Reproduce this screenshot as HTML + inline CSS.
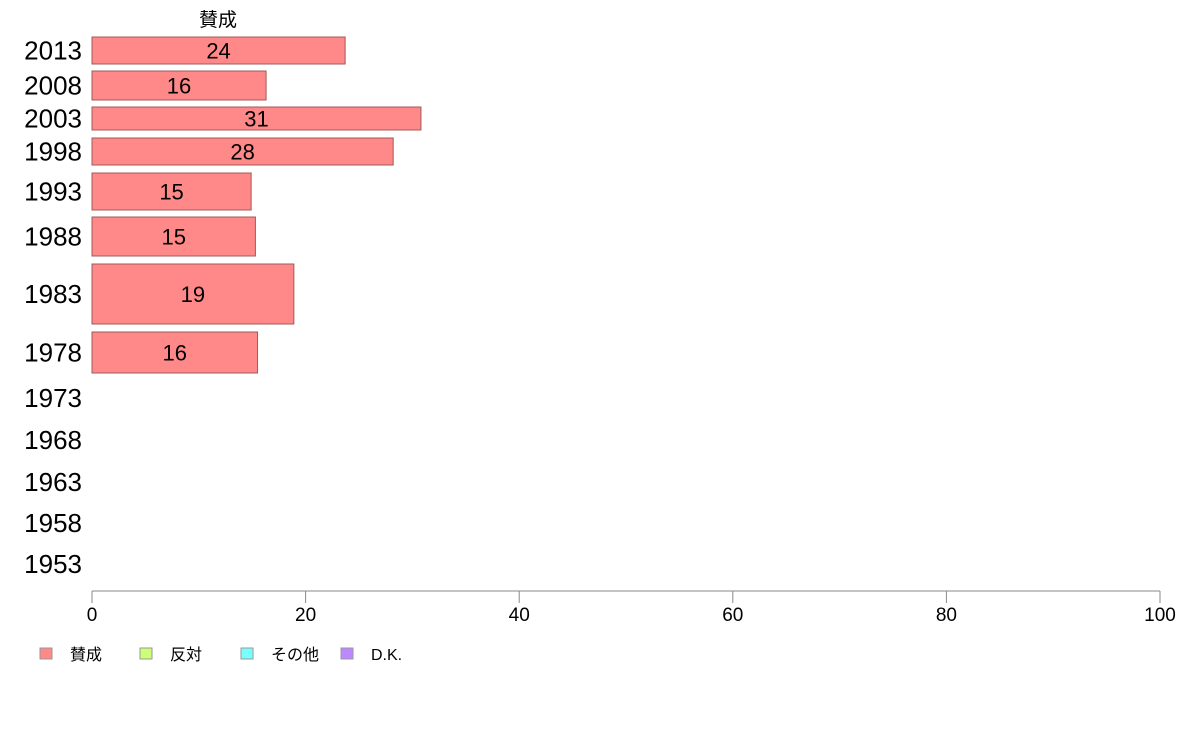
<!DOCTYPE html>
<html><head><meta charset="utf-8"><style>
body{margin:0;background:#fff;}
svg{display:block;font-family:"Liberation Sans","Noto Sans CJK JP",sans-serif;}
</style></head><body>
<svg id="chart" width="1188" height="736"></svg>
<script>
const years=["2013","2008","2003","1998","1993","1988","1983","1978","1973","1968","1963","1958","1953"];
const values=[23.7,16.3,30.8,28.2,14.9,15.3,18.9,15.5,null,null,null,null,null];
const labels=["24","16","31","28","15","15","19","16","","","","",""];
const bandTop=[37,71,107,138,173,217,264,332,385,427,469,510,551];
const bandBottom=[64,100,130,165,210,256,324,373,411,453,495,536,577];
const ticks=[0,20,40,60,80,100];
const legendNames=["賛成","反対","その他","D.K."];
const legendColors=["#ff8888","#ccff77","#77ffff","#bb88ff"];
const svg=document.getElementById('chart');
const NS='http://www.w3.org/2000/svg';
const x=v=>92+v*(1160-92)/100;
function mk(t,a,txt){const e=document.createElementNS(NS,t);for(const k in a)e.setAttribute(k,a[k]);if(txt!=null)e.textContent=txt;svg.appendChild(e);return e;}
const title=mk('text',{x:218,y:26,'text-anchor':'middle','font-size':19,fill:'#000'},'賛成');


years.forEach((y,i)=>{
  const cy=(bandTop[i]+bandBottom[i])/2;
  const l=mk('text',{x:82,y:cy+9,'text-anchor':'end','font-size':26,fill:'#000'},y);
  
  
  if(values[i]!=null){
    const r=mk('rect',{x:x(0),y:bandTop[i],width:x(values[i])-x(0),height:bandBottom[i]-bandTop[i],fill:'#ff8888',stroke:'#a05858','stroke-width':1});
    
    
    const t=mk('text',{x:(x(0)+x(values[i]))/2,y:cy+8,'text-anchor':'middle','font-size':22,fill:'#000'},labels[i]);
    
    
  }
});
const ax=mk('line',{x1:x(0),x2:x(100),y1:591,y2:591,stroke:'#888','stroke-width':1});


ticks.forEach(v=>{
  const tk=mk('line',{x1:x(v),x2:x(v),y1:591,y2:603,stroke:'#888','stroke-width':1});
  
  
  const tl=mk('text',{x:x(v),y:621,'text-anchor':'middle','font-size':19,fill:'#000'},String(v));
  
  
});
const lx=[40,140,241,341];
legendNames.forEach((n,i)=>{
  const b=mk('rect',{x:lx[i],y:648,width:12,height:11,fill:legendColors[i],stroke:'#999','stroke-width':1});
  
  
  const t=mk('text',{x:lx[i]+30,y:660,'font-size':16,fill:'#000'},n);
  
  
});
</script>
</body></html>
